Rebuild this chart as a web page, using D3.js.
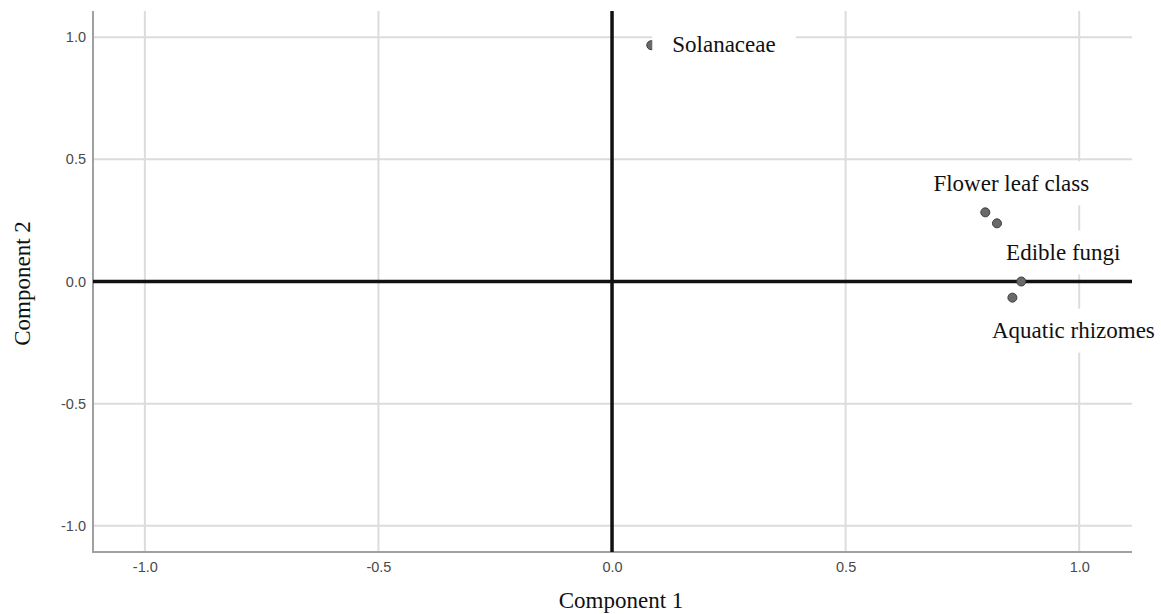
<!DOCTYPE html>
<html>
<head>
<meta charset="utf-8">
<script src="https://cdn.jsdelivr.net/npm/d3@7"></script>
<style>
  html, body { margin: 0; padding: 0; background: #fff; }
  svg { display: block; }
</style>
</head>
<body>
<svg id="chart" width="1161" height="614"></svg>
<script>
// Component loadings (rotated component plot)
const variables = ["Solanaceae", "Flower leaf class", null, "Edible fungi", "Aquatic rhizomes"];
const component1 = [0.084, 0.799, 0.824, 0.876, 0.857];
const component2 = [0.967, 0.283, 0.238, 0.000, -0.066];
const tickValues = [-1.0, -0.5, 0.0, 0.5, 1.0];
const tickLabels = ["-1.0", "-0.5", "0.0", "0.5", "1.0"];

// Label placement: offset (px) of the label centre from its point
const labelLayout = {
  "Solanaceae":        { dx: 21, dy: -1, anchor: "start" },
  "Flower leaf class": { dx: 26, dy: -29, anchor: "middle" },
  "Edible fungi":      { dx: 42, dy: -29, anchor: "middle" },
  "Aquatic rhizomes":  { dx: 61, dy: 33, anchor: "middle" }
};

const svg = d3.select("#chart");
const plot = { left: 93, right: 1132, top: 11, bottom: 552 };

const x = d3.scaleLinear().domain([-1.111, 1.113]).range([plot.left, plot.right]);
const y = d3.scaleLinear().domain([-1.107, 1.107]).range([plot.bottom, plot.top]);

const points = variables.map((name, i) => ({ name, c1: component1[i], c2: component2[i] }));

// Grid lines
const grid = svg.append("g");
grid.selectAll("line.gx").data(tickValues).join("line")
  .attr("x1", d => x(d)).attr("x2", d => x(d))
  .attr("y1", plot.top).attr("y2", plot.bottom)
  .attr("stroke", "#dcdcdc").attr("stroke-width", 2);
grid.selectAll("line.gy").data(tickValues).join("line")
  .attr("x1", plot.left).attr("x2", plot.right)
  .attr("y1", d => y(d)).attr("y2", d => y(d))
  .attr("stroke", "#dcdcdc").attr("stroke-width", 2);

// Axes (no tick marks, frame on left and bottom only)
const xAxis = d3.axisBottom(x).tickValues(tickValues)
  .tickFormat((d, i) => tickLabels[i]).tickSize(0).tickPadding(10);
const yAxis = d3.axisLeft(y).tickValues(tickValues)
  .tickFormat((d, i) => tickLabels[i]).tickSize(0).tickPadding(7);

const gx = svg.append("g").attr("transform", `translate(0,${plot.bottom})`).call(xAxis);
const gy = svg.append("g").attr("transform", `translate(${plot.left},0)`).call(yAxis);
[gx, gy].forEach(g => {
  g.select(".domain").remove();
  g.selectAll("text")
    .attr("font-family", "'Liberation Sans', Arial, sans-serif")
    .attr("font-size", 14.5)
    .attr("fill", "#4a4a4a");
});

svg.append("line")
  .attr("x1", plot.left).attr("x2", plot.left)
  .attr("y1", plot.top).attr("y2", plot.bottom + 1)
  .attr("stroke", "#a0a0a0").attr("stroke-width", 2);
svg.append("line")
  .attr("x1", plot.left).attr("x2", plot.right)
  .attr("y1", plot.bottom).attr("y2", plot.bottom)
  .attr("stroke", "#a0a0a0").attr("stroke-width", 2);

// Reference lines through the origin
svg.append("line")
  .attr("x1", x(0)).attr("x2", x(0))
  .attr("y1", plot.top).attr("y2", plot.bottom)
  .attr("stroke", "#111").attr("stroke-width", 3.5);
svg.append("line")
  .attr("x1", plot.left).attr("x2", plot.right)
  .attr("y1", y(0)).attr("y2", y(0))
  .attr("stroke", "#111").attr("stroke-width", 3.5);

// Points
svg.append("g").selectAll("circle").data(points).join("circle")
  .attr("cx", d => x(d.c1)).attr("cy", d => y(d.c2))
  .attr("r", 4.5)
  .attr("fill", "#6a6a6a").attr("stroke", "#3c3c3c").attr("stroke-width", 1);

// Labels with white backing boxes
const labels = svg.append("g");
points.filter(d => d.name).forEach(d => {
  const L = labelLayout[d.name];
  const g = labels.append("g");
  const box = g.append("rect").attr("fill", "#fff");
  const t = g.append("text")
    .attr("x", x(d.c1) + L.dx)
    .attr("y", y(d.c2) + L.dy)
    .attr("text-anchor", L.anchor)
    .attr("dominant-baseline", "central")
    .attr("font-family", "'Liberation Serif', 'Times New Roman', serif")
    .attr("font-size", 23)
    .attr("fill", "#111")
    .text(d.name);
  const bb = t.node().getBBox();
  box.attr("x", bb.x - 20).attr("width", bb.width + 40)
     .attr("y", bb.y + bb.height / 2 - 22).attr("height", 44);
});

// Axis titles
svg.append("text")
  .attr("x", x(0) + 9).attr("y", 608)
  .attr("text-anchor", "middle")
  .attr("font-family", "'Liberation Serif', 'Times New Roman', serif")
  .attr("font-size", 23).attr("fill", "#111")
  .text("Component 1");
svg.append("text")
  .attr("transform", `translate(30,${y(0) + 2}) rotate(-90)`)
  .attr("text-anchor", "middle")
  .attr("font-family", "'Liberation Serif', 'Times New Roman', serif")
  .attr("font-size", 23).attr("fill", "#111")
  .text("Component 2");
</script>
</body>
</html>
